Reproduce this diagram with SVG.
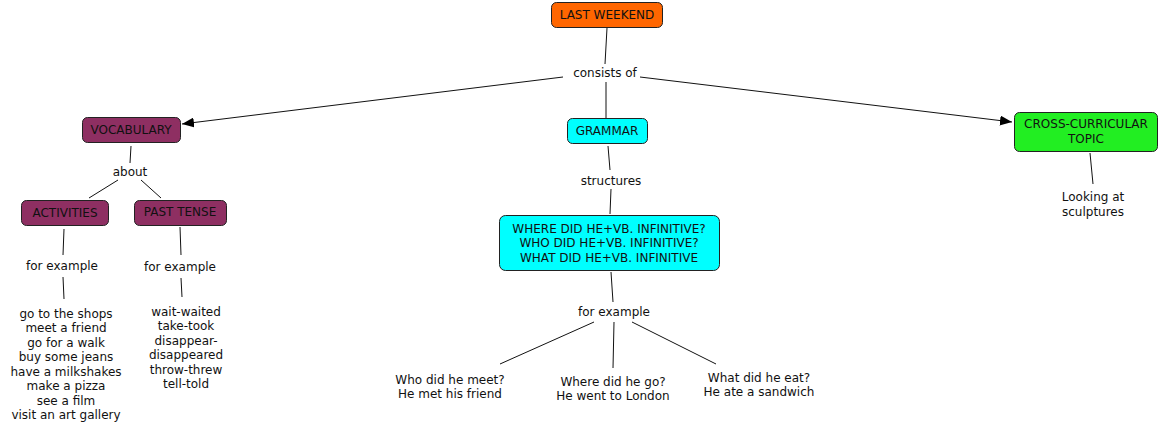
<svg xmlns="http://www.w3.org/2000/svg" width="1159" height="432" viewBox="0 0 1159 432">
<style>
text{font-family:"DejaVu Sans",Verdana,sans-serif;font-size:12px;fill:#111;text-anchor:middle}
.nd{stroke:#222;stroke-width:1}
.c{stroke:#111;stroke-width:1;fill:none}
.orange{fill:#FF6600}
.purple{fill:#8E2F62}
.cyan{fill:#00FFFF}
.green{fill:#22EE22}
</style>
<defs>
<marker id="ah" viewBox="0 0 12 10" refX="12" refY="5" markerWidth="12" markerHeight="10" markerUnits="userSpaceOnUse" orient="auto">
<path d="M0,0 L12,5 L0,10 z" fill="#000"/>
</marker>
</defs>
<rect width="1159" height="432" fill="#fff"/>
<g id="connectors">
<line class="c" x1="607" y1="28" x2="605" y2="64"/>
<line class="c" x1="563" y1="77" x2="182" y2="124" marker-end="url(#ah)"/>
<line class="c" x1="606" y1="82" x2="606" y2="118"/>
<line class="c" x1="640" y1="77" x2="1012" y2="122" marker-end="url(#ah)"/>
<line class="c" x1="131" y1="146" x2="130" y2="163"/>
<line class="c" x1="118" y1="180" x2="89" y2="198"/>
<line class="c" x1="141" y1="180" x2="161" y2="198"/>
<line class="c" x1="64" y1="229" x2="63" y2="255"/>
<line class="c" x1="63" y1="277" x2="64" y2="299"/>
<line class="c" x1="180" y1="227" x2="181" y2="255"/>
<line class="c" x1="181" y1="278" x2="182" y2="297"/>
<line class="c" x1="608" y1="146" x2="610" y2="170"/>
<line class="c" x1="611" y1="189" x2="610" y2="214"/>
<line class="c" x1="611" y1="272" x2="613" y2="302"/>
<line class="c" x1="594" y1="322" x2="500" y2="364"/>
<line class="c" x1="614" y1="322" x2="613" y2="368"/>
<line class="c" x1="632" y1="322" x2="716" y2="364"/>
<line class="c" x1="1090" y1="153" x2="1093" y2="184"/>
</g>
<g id="last-weekend">
<rect class="nd orange" x="551.5" y="2.5" width="111" height="25" rx="5"/>
<text x="607" y="19">LAST WEEKEND</text>
</g>
<g id="consists-of"><text x="605" y="77">consists of</text></g>
<g id="vocabulary">
<rect class="nd purple" x="82.5" y="117.5" width="98" height="25" rx="5"/>
<text x="131" y="134">VOCABULARY</text>
</g>
<g id="about"><text x="130" y="176">about</text></g>
<g id="activities">
<rect class="nd purple" x="21.5" y="200.5" width="87" height="25" rx="5"/>
<text x="65" y="217">ACTIVITIES</text>
</g>
<g id="past-tense">
<rect class="nd purple" x="134.5" y="200.5" width="92" height="25" rx="5"/>
<text x="180" y="216">PAST TENSE</text>
</g>
<g id="for-example-1"><text x="62" y="270">for example</text></g>
<g id="for-example-2"><text x="180" y="271">for example</text></g>
<g id="activities-list">
<text x="66" y="318">go to the shops</text>
<text x="66" y="332">meet a friend</text>
<text x="66" y="347">go for a walk</text>
<text x="66" y="361">buy some jeans</text>
<text x="66" y="376">have a milkshakes</text>
<text x="66" y="390">make a pizza</text>
<text x="66" y="405">see a film</text>
<text x="66" y="419">visit an art gallery</text>
</g>
<g id="past-tense-list">
<text x="186" y="316">wait-waited</text>
<text x="186" y="330">take-took</text>
<text x="186" y="345">disappear-</text>
<text x="186" y="359">disappeared</text>
<text x="186" y="374">throw-threw</text>
<text x="186" y="388">tell-told</text>
</g>
<g id="grammar">
<rect class="nd cyan" x="567.5" y="118.5" width="80" height="25" rx="5"/>
<text x="607" y="135">GRAMMAR</text>
</g>
<g id="structures"><text x="611" y="185">structures</text></g>
<g id="structures-node">
<rect class="nd cyan" x="499.5" y="215.5" width="220" height="55" rx="6"/>
<text x="609" y="233">WHERE DID HE+VB. INFINITIVE?</text>
<text x="609" y="247">WHO DID HE+VB. INFINITIVE?</text>
<text x="609" y="262">WHAT DID HE+VB. INFINITIVE</text>
</g>
<g id="for-example-3"><text x="614" y="316">for example</text></g>
<g id="who"><text x="450" y="384">Who did he meet?</text><text x="450" y="398">He met his friend</text></g>
<g id="where"><text x="613" y="386">Where did he go?</text><text x="613" y="400">He went to London</text></g>
<g id="what"><text x="759" y="382">What did he eat?</text><text x="759" y="396">He ate a sandwich</text></g>
<g id="cross-curricular">
<rect class="nd green" x="1014.5" y="112.5" width="143" height="39" rx="5"/>
<text x="1086" y="128">CROSS-CURRICULAR</text>
<text x="1086" y="143">TOPIC</text>
</g>
<g id="looking"><text x="1093" y="201">Looking at</text><text x="1093" y="216">sculptures</text></g>
</svg>
